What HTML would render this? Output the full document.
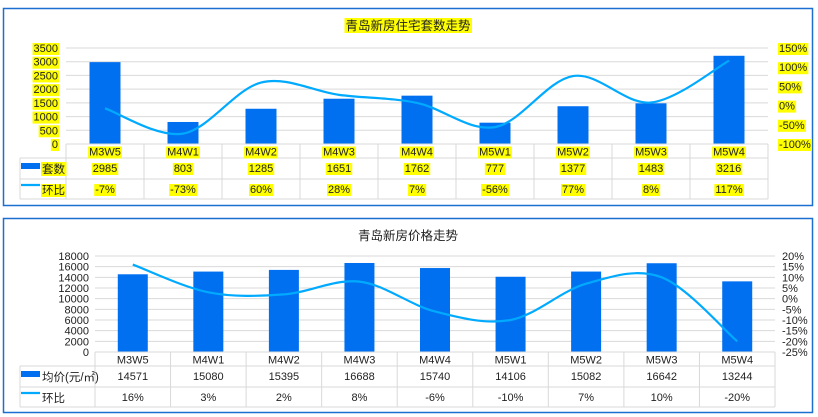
<!DOCTYPE html>
<html><head><meta charset="utf-8"><style>
body{margin:0;background:#fff;width:818px;height:417px;overflow:hidden}
svg{display:block;font-family:"Liberation Sans","Noto Sans CJK SC",sans-serif}
</style></head><body>
<svg id="s" width="818" height="417">
<rect x="3.5" y="8.5" width="809" height="197" fill="#fff" stroke="#1a6fd0" stroke-width="1.5"/>
<rect x="3.5" y="218.5" width="809" height="194" fill="#fff" stroke="#1a6fd0" stroke-width="1.5"/>
</svg>
<script>
const categories=["M3W5","M4W1","M4W2","M4W3","M4W4","M5W1","M5W2","M5W3","M5W4"];
const volumeValues=[2985,803,1285,1651,1762,777,1377,1483,3216];
const volumeChange=[-7,-73,60,28,7,-56,77,8,117];
const priceValues=[14571,15080,15395,16688,15740,14106,15082,16642,13244];
const priceChange=[16,3,2,8,-6,-10,7,10,-20];
const volTicks=[0,500,1000,1500,2000,2500,3000,3500];
const volPctTicks=[-100,-50,0,50,100,150];
const priceTicks=[0,2000,4000,6000,8000,10000,12000,14000,16000,18000];
const pricePctTicks=[-25,-20,-15,-10,-5,0,5,10,15,20];

const NS="http://www.w3.org/2000/svg",S=document.getElementById('s');
function el(t,a,p){const e=document.createElementNS(NS,t);for(const k in a)e.setAttribute(k,a[k]);(p||S).appendChild(e);return e;}
function txt(x,y,s,anchor,hl,size,name){
  const g=el('g',{});
  
  
  const t=el('text',{x:x,y:y,'font-size':size||11,'text-anchor':anchor||'middle',fill:'#222'},g);
  t.textContent=s;
  if(hl){const b=t.getBBox();const r=el('rect',{x:b.x-1,y:b.y,width:b.width+2,height:b.height,fill:'#ffff00'});g.insertBefore(r,t);}
  return g;
}
function smooth(pts){
  let d=`M${pts[0][0]},${pts[0][1]}`;
  for(let i=0;i<pts.length-1;i++){
    const p0=pts[i-1]||pts[i],p1=pts[i],p2=pts[i+1],p3=pts[i+2]||p2,k=1/6;
    d+=` C${p1[0]+(p2[0]-p0[0])*k},${p1[1]+(p2[1]-p0[1])*k} ${p2[0]-(p3[0]-p1[0])*k},${p2[1]-(p3[1]-p1[1])*k} ${p2[0]},${p2[1]}`;
  }
  return d;
}
function chart(o){
  const n=categories.length,cw=(o.x1-o.x0)/n;
  const y=v=>o.yb-(v-o.lmin)/(o.lmax-o.lmin)*(o.yb-o.yt);
  const y2=v=>o.yb-(v-o.rmin)/(o.rmax-o.rmin)*(o.yb-o.yt);
  const xc=i=>o.x0+cw*(i+.5);
  txt(408,o.titleY,o.title,'middle',o.hl,12.5,o.prefix+'-title');
  o.lt.forEach(v=>{
    const g=el('line',{x1:o.x0,x2:o.x1,y1:y(v),y2:y(v),stroke:'#d9d9d9'});
    
    
    txt(o.x0-o.lpad,y(v)+4,String(v),'end',o.hl,11,'left-tick-label');
  });
  o.rt.forEach(v=>{txt(o.rx,y2(v)+4,v+'%','start',o.hl,11,'right-tick-label');});
  o.vals.forEach((v,i)=>{
    const r=el('rect',{x:xc(i)-o.bw/2,y:y(v),width:o.bw,height:o.yb-y(v),fill:'#0070f0'});
    
    
  });
  const p=el('path',{d:smooth(o.pct.map((v,i)=>[xc(i),y2(v)])),fill:'none',stroke:'#00aaff','stroke-width':2.2});
  
  
  // table
  const r0=o.yb,r1=r0+14,r2=r1+21,r3=r2+20,lc=20,st={stroke:'#d9d9d9'};
  [r0,r1,r2,r3].forEach((yy,k)=>el('line',Object.assign({x1:k==0||k==1?(k==0?o.x0:lc):lc,x2:o.x1,y1:yy,y2:yy},st)));
  el('line',Object.assign({x1:lc,x2:lc,y1:r1,y2:r3},st));
  for(let i=0;i<=n;i++)el('line',Object.assign({x1:o.x0+cw*i,x2:o.x0+cw*i,y1:r0,y2:r3},st));
  const lr=el('rect',{x:21,y:r1+5,width:19,height:6,fill:'#0070f0'});
  
  const ll=el('line',{x1:21,x2:40,y1:r2+6,y2:r2+6,stroke:'#00aaff','stroke-width':2.2});
  
  txt(42,r1+15,o.series,'start',o.hl,11.5,'legend-entry-bars');
  txt(42,r2+15,'环比','start',o.hl,11.5,'legend-entry-line');
  categories.forEach((c,i)=>{
    txt(xc(i),r0+11.5,c,'middle',o.hl,11,'category-label');
    txt(xc(i),r1+14,String(o.vals[i]),'middle',o.hl,11,'value-cell');
    txt(xc(i),r2+14,o.pct[i]+'%','middle',o.hl,11,'change-cell');
  });
}
chart({prefix:'volume',title:'青岛新房住宅套数走势',titleY:30,hl:true,x0:66,x1:768,yt:48,yb:144,lmin:0,lmax:3500,rmin:-100,rmax:150,
  lt:volTicks,rt:volPctTicks,vals:volumeValues,pct:volumeChange,bw:31,lpad:8,rx:779,series:'套数'});
chart({prefix:'price',title:'青岛新房价格走势',titleY:240,hl:false,x0:95,x1:775,yt:256,yb:352,lmin:0,lmax:18000,rmin:-25,rmax:20,
  lt:priceTicks,rt:pricePctTicks,vals:priceValues,pct:priceChange,bw:30,lpad:6,rx:782,series:'均价(元/㎡)'});
</script>
</body></html>
